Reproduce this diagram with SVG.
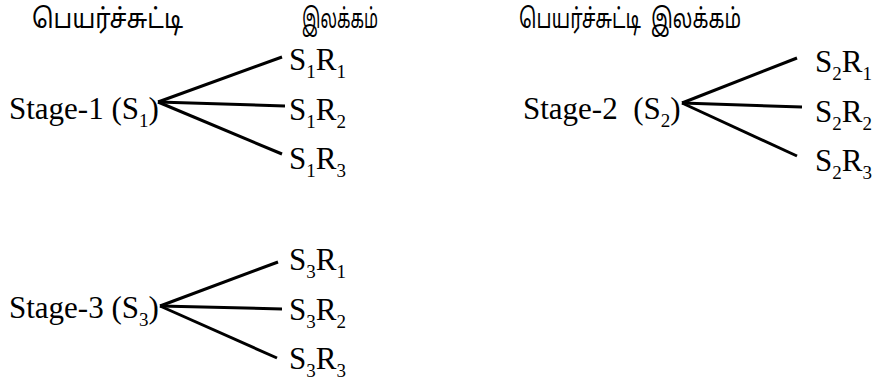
<svg xmlns="http://www.w3.org/2000/svg" width="872" height="391" viewBox="0 0 872 391">
<style>
.t{font-family:'Liberation Serif','Times New Roman',Times,serif;font-size:31px;fill:#000}
.s{font-size:19px}
.ta{font-family:'Noto Sans Tamil','Lohit Tamil',Latha,'Noto Sans',sans-serif;font-size:27px;fill:#000}
.c line{stroke:#000;stroke-width:3;stroke-linecap:butt}
</style>
<rect width="872" height="391" fill="#fff"/>
<g id="header-left">
<text class="ta" x="32" y="28" textLength="151" lengthAdjust="spacingAndGlyphs">பெயர்ச்சுட்டி</text>
<text class="ta" x="302" y="28" textLength="76" lengthAdjust="spacingAndGlyphs">இலக்கம்</text>
</g>
<g id="header-right">
<text class="ta" x="519" y="28" textLength="222" lengthAdjust="spacingAndGlyphs" xml:space="preserve">பெயர்ச்சுட்டி  இலக்கம்</text>
</g>
<g id="stage1">
<text class="t" x="9" y="119">Stage-1 (S<tspan class="s" dy="8">1</tspan><tspan dy="-8">)</tspan></text>
</g>
<g id="s1r1"><text class="t" x="289" y="70">S<tspan class="s" dy="8">1</tspan><tspan dy="-8">R</tspan><tspan class="s" dy="8">1</tspan></text></g>
<g id="s1r2"><text class="t" x="289" y="120">S<tspan class="s" dy="8">1</tspan><tspan dy="-8">R</tspan><tspan class="s" dy="8">2</tspan></text></g>
<g id="s1r3"><text class="t" x="289" y="169">S<tspan class="s" dy="8">1</tspan><tspan dy="-8">R</tspan><tspan class="s" dy="8">3</tspan></text></g>
<g id="stage2">
<text class="t" x="523" y="119" xml:space="preserve">Stage-2  (S<tspan class="s" dy="8">2</tspan><tspan dy="-8">)</tspan></text>
</g>
<g id="s2r1"><text class="t" x="815" y="72">S<tspan class="s" dy="8">2</tspan><tspan dy="-8">R</tspan><tspan class="s" dy="8">1</tspan></text></g>
<g id="s2r2"><text class="t" x="815" y="122">S<tspan class="s" dy="8">2</tspan><tspan dy="-8">R</tspan><tspan class="s" dy="8">2</tspan></text></g>
<g id="s2r3"><text class="t" x="815" y="171">S<tspan class="s" dy="8">2</tspan><tspan dy="-8">R</tspan><tspan class="s" dy="8">3</tspan></text></g>
<g id="stage3">
<text class="t" x="9" y="318">Stage-3 (S<tspan class="s" dy="8">3</tspan><tspan dy="-8">)</tspan></text>
</g>
<g id="s3r1"><text class="t" x="289" y="270">S<tspan class="s" dy="8">3</tspan><tspan dy="-8">R</tspan><tspan class="s" dy="8">1</tspan></text></g>
<g id="s3r2"><text class="t" x="289" y="320">S<tspan class="s" dy="8">3</tspan><tspan dy="-8">R</tspan><tspan class="s" dy="8">2</tspan></text></g>
<g id="s3r3"><text class="t" x="289" y="369">S<tspan class="s" dy="8">3</tspan><tspan dy="-8">R</tspan><tspan class="s" dy="8">3</tspan></text></g>
<g id="connectors" class="c">
<line x1="158" y1="102" x2="282" y2="57"/>
<line x1="158" y1="102" x2="285" y2="106"/>
<line x1="158" y1="102" x2="282" y2="154"/>
<line x1="682" y1="103" x2="797" y2="58"/>
<line x1="682" y1="103" x2="802" y2="107"/>
<line x1="682" y1="103" x2="797" y2="156"/>
<line x1="160" y1="306" x2="278" y2="262"/>
<line x1="160" y1="306" x2="282" y2="309"/>
<line x1="160" y1="306" x2="277" y2="358"/>
</g>
</svg>
